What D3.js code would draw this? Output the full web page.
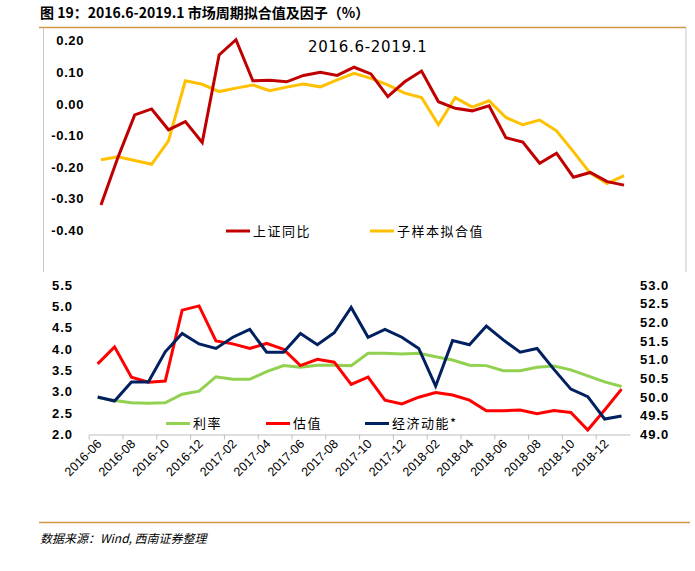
<!DOCTYPE html>
<html>
<head>
<meta charset="utf-8">
<script src="https://cdn.jsdelivr.net/npm/d3@7"></script>
<style>
  body { margin: 0; background: #fff; }
  svg { display: block; font-family: "Liberation Sans", Arial, sans-serif; }
  .cjk { font-family: "Noto Sans CJK SC", sans-serif; }
</style>
</head>
<body>
<div id="chart"></div>
<script>
// 月份 2016-06 .. 2019-01
const months = d3.range(32).map(i => {
  const d = new Date(2016, 5 + i, 1);
  return d3.timeFormat('%Y-%m')(d);
});

// 上图：上证同比 与 子样本拟合值
const shYoY = [-0.32, -0.17, -0.035, -0.016, -0.082, -0.056, -0.122, 0.155, 0.203, 0.073,
  0.075, 0.07, 0.09, 0.10, 0.09, 0.116, 0.095, 0.023, 0.07, 0.104,
  0.007, -0.014, -0.022, -0.006, -0.107, -0.121, -0.188, -0.156, -0.232, -0.217,
  -0.246, -0.257];
const fitVal = [-0.177, -0.167, -0.179, -0.191, -0.117, 0.073, 0.062, 0.039, 0.05, 0.06,
  0.042, 0.053, 0.063, 0.054, 0.076, 0.097, 0.081, 0.06, 0.034, 0.02,
  -0.066, 0.02, -0.01, 0.01, -0.043, -0.066, -0.051, -0.085, -0.151, -0.219,
  -0.252, -0.227];
const topTicks = [0.2, 0.1, 0, -0.1, -0.2, -0.3, -0.4];

// 下图：利率、估值（左轴），经济动能*（右轴）
const rate = [2.86, 2.79, 2.74, 2.73, 2.74, 2.94, 3.01, 3.35, 3.29, 3.29,
  3.47, 3.61, 3.57, 3.62, 3.62, 3.61, 3.90, 3.90, 3.88, 3.90,
  3.82, 3.74, 3.62, 3.61, 3.49, 3.49, 3.57, 3.60, 3.51, 3.37,
  3.23, 3.12];
const valuation = [3.65, 4.05, 3.34, 3.22, 3.25, 4.91, 5.01, 4.19, 4.12, 4.01,
  4.13, 3.99, 3.61, 3.76, 3.69, 3.17, 3.34, 2.80, 2.71, 2.87,
  2.98, 2.92, 2.80, 2.55, 2.55, 2.57, 2.48, 2.56, 2.51, 2.10,
  2.57, 3.06];
const momentum = [50.0, 49.89, 50.40, 50.40, 51.21, 51.70, 51.42, 51.30, 51.60, 51.81,
  51.20, 51.20, 51.70, 51.40, 51.72, 52.40, 51.60, 51.81, 51.60, 51.30,
  50.29, 51.51, 51.40, 51.90, 51.53, 51.20, 51.30, 50.74, 50.21, 50.01,
  49.41, 49.49];
const leftTicks = d3.range(2, 5.51, 0.5);
const rightTicks = d3.range(49, 53.01, 0.5);

const W = 695, H = 571;
const svg = d3.select('#chart').append('svg').attr('width', W).attr('height', H);

// 标题与框线
svg.append('text').attr('class', 'cjk')
  .attr('x', 40).attr('y', 18)
  .attr('font-size', 14).attr('font-weight', 'bold')
  .text('图 19：2016.6-2019.1 市场周期拟合值及因子（%）');
svg.append('line').attr('x1', 39).attr('x2', 686).attr('y1', 27.5).attr('y2', 27.5)
  .attr('stroke', '#D09A45').attr('stroke-width', 1.5);
[43.5, 686].forEach(x => svg.append('line')
  .attr('x1', x).attr('x2', x).attr('y1', 28).attr('y2', 272)
  .attr('stroke', '#c8c8c8').attr('stroke-width', 1));

// ---- 上图 ----
const xTop = d3.scalePoint().domain(months).range([101, 624]);
const yTop = d3.scaleLinear().domain([-0.4, 0.2]).range([230.3, 40.7]);

const topAxis = svg.append('g').attr('transform', 'translate(84,0)')
  .call(d3.axisLeft(yTop).tickValues(topTicks).tickSize(0).tickPadding(0)
    .tickFormat(d => d3.format('.2f')(d).replace('−', '-')));
topAxis.select('.domain').remove();
topAxis.selectAll('text').attr('font-size', 13).attr('font-weight', 'bold')
  .attr('letter-spacing', 0.6).attr('fill', '#000')
  .attr('font-family', '"Liberation Sans", Arial, sans-serif');

svg.append('text').attr('x', 308).attr('y', 52)
  .attr('font-size', 15).attr('letter-spacing', 0.7)
  .attr('font-family', '"DejaVu Sans", sans-serif')
  .text('2016.6-2019.1');

const lineTop = d3.line().x((d, i) => xTop(months[i])).y(d => yTop(d));
svg.append('path').attr('d', lineTop(fitVal))
  .attr('fill', 'none').attr('stroke', '#FFC000').attr('stroke-width', 3);
svg.append('path').attr('d', lineTop(shYoY))
  .attr('fill', 'none').attr('stroke', '#C00000').attr('stroke-width', 3);

function legend(x, y, color, label) {
  svg.append('line').attr('x1', x).attr('x2', x + 24).attr('y1', y).attr('y2', y)
    .attr('stroke', color).attr('stroke-width', 3);
  svg.append('text').attr('class', 'cjk').attr('x', x + 27).attr('y', y + 4.5)
    .attr('font-size', 13).attr('letter-spacing', 1.5).text(label);
}
legend(226, 231, '#C00000', '上证同比');
legend(370, 231, '#FFC000', '子样本拟合值');

// ---- 下图 ----
const xBot = d3.scaleBand().domain(months).range([89.2, 630]);
const cx = i => xBot(months[i]) + xBot.bandwidth() / 2;
const yL = d3.scaleLinear().domain([2, 5.5]).range([434.3, 285]);
const yR = d3.scaleLinear().domain([49, 53]).range([434.3, 285]);

const la = svg.append('g').attr('transform', 'translate(73,0)')
  .call(d3.axisLeft(yL).tickValues(leftTicks).tickSize(0).tickPadding(0).tickFormat(d3.format('.1f')));
const ra = svg.append('g').attr('transform', 'translate(640,0)')
  .call(d3.axisRight(yR).tickValues(rightTicks).tickSize(0).tickPadding(0).tickFormat(d3.format('.1f')));
[la, ra].forEach(a => {
  a.select('.domain').remove();
  a.selectAll('text').attr('font-size', 13).attr('font-weight', 'bold')
    .attr('letter-spacing', 1).attr('fill', '#000')
    .attr('font-family', '"Liberation Sans", Arial, sans-serif');
});

// x 轴：每两个月一个刻度
const tickMonths = months.filter((m, i) => i % 2 === 0);
const xa = svg.append('g').attr('transform', 'translate(0,434.5)')
  .call(d3.axisBottom(xBot).tickValues(tickMonths).tickSizeInner(5).tickSizeOuter(0).tickPadding(2));
xa.select('.domain').attr('stroke', '#bfbfbf');
xa.selectAll('.tick').attr('transform', d => `translate(${xBot(d)},0)`);
xa.selectAll('.tick line').attr('stroke', '#bfbfbf');
xa.selectAll('.tick text')
  .attr('font-size', 12.5).attr('fill', '#000')
  .attr('font-family', '"Liberation Sans", Arial, sans-serif')
  .attr('text-anchor', 'end')
  .attr('transform', 'translate(10,7) rotate(-45)')
  .attr('dy', '0.35em').attr('y', 0);

const lineL = d3.line().x((d, i) => cx(i)).y(d => yL(d));
const lineR = d3.line().x((d, i) => cx(i)).y(d => yR(d));
svg.append('path').attr('d', lineL(rate))
  .attr('fill', 'none').attr('stroke', '#92D050').attr('stroke-width', 3);
svg.append('path').attr('d', lineL(valuation))
  .attr('fill', 'none').attr('stroke', '#FF0000').attr('stroke-width', 3);
svg.append('path').attr('d', lineR(momentum))
  .attr('fill', 'none').attr('stroke', '#002060').attr('stroke-width', 3);

legend(166, 423.5, '#92D050', '利率');
legend(266, 423.5, '#FF0000', '估值');
legend(365, 423.5, '#002060', '经济动能*');

// 数据来源
svg.append('line').attr('x1', 39).attr('x2', 690).attr('y1', 522.5).attr('y2', 522.5)
  .attr('stroke', '#D09A45').attr('stroke-width', 1.5);
svg.append('text').attr('class', 'cjk').attr('x', 40).attr('y', 543)
  .attr('font-size', 12).attr('font-style', 'italic')
  .text('数据来源：Wind, 西南证券整理');
</script>
</body>
</html>
